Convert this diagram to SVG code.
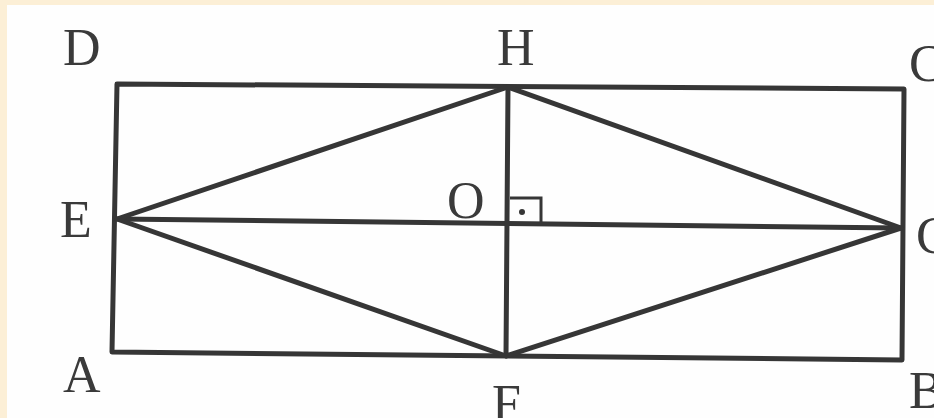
<svg xmlns="http://www.w3.org/2000/svg" width="934" height="418" viewBox="0 0 934 418">
<style>
.ln{stroke:#363636;stroke-width:5;fill:none;stroke-linecap:round;stroke-linejoin:round}
.thin{stroke:#363636;stroke-width:3;fill:none}
.lbl{font-family:"Liberation Serif","Times New Roman",serif;font-size:52px;fill:#3a3a3a}
</style>
<rect x="0" y="0" width="934" height="418" fill="#fcefd6"/>
<rect x="7" y="5" width="927" height="413" fill="#fefefe"/>
<g id="connectors">
<polygon class="ln" points="117,84 904,89 902,360 112,352"/>
<line class="ln" x1="117" y1="219" x2="901" y2="228"/>
<line class="ln" x1="508" y1="87" x2="506" y2="356"/>
<polygon class="ln" points="117,219 508,87 901,228 506,356"/>
<polyline class="thin" points="510,198 541,198 541,223"/>
<circle cx="522" cy="212" r="3" fill="#363636"/>
</g>
<g id="D"><text class="lbl" x="63" y="65">D</text></g>
<g id="H"><text class="lbl" x="497" y="65">H</text></g>
<g id="C"><text class="lbl" x="909" y="81">C</text></g>
<g id="E"><text class="lbl" x="60" y="237">E</text></g>
<g id="O"><text class="lbl" x="447" y="218">O</text></g>
<g id="G"><text class="lbl" x="916" y="253">G</text></g>
<g id="A"><text class="lbl" x="63" y="392">A</text></g>
<g id="F"><text class="lbl" x="492" y="421">F</text></g>
<g id="B"><text class="lbl" x="909" y="408">B</text></g>
</svg>
